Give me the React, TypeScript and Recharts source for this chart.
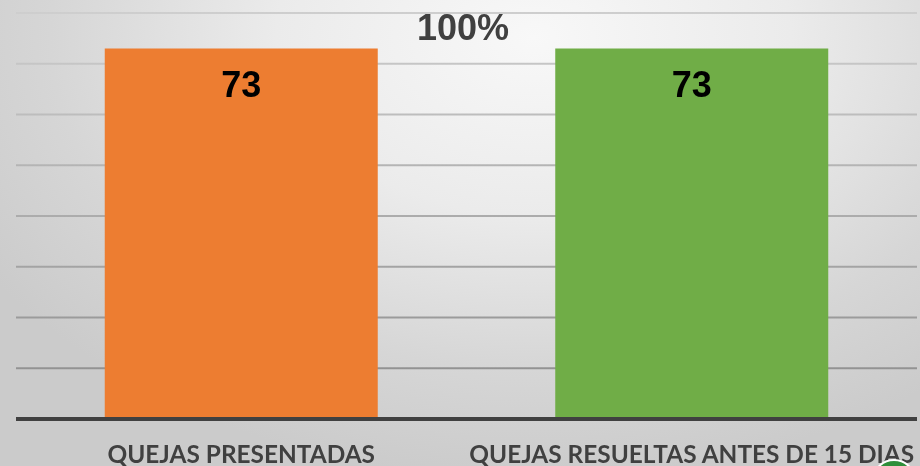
import React from "react";
import { BarChart, Bar, XAxis, YAxis, CartesianGrid, LabelList, Cell } from "recharts";

const categories = ["QUEJAS PRESENTADAS", "QUEJAS RESUELTAS ANTES DE 15 DIAS"];
const values = [73, 73];
const barColors = ["#ED7D31", "#70AD47"];
const yTicks = [0, 10, 20, 30, 40, 50, 60, 70, 80];
const percentLabel = "100%";

const data = categories.map((name, i) => ({ name, value: values[i] }));

const XTick = (props: any) => {
  const { x, payload } = props;
  return (
    <text
      x={x}
      y={462.5}
      textAnchor="middle"
      fill="#404040"
      fontFamily="Lato, 'Open Sans', sans-serif"
      fontWeight={700}
      fontSize={24.4}
    >
      {payload.value}
    </text>
  );
};

const ValueLabel = (props: any) => {
  const { x, y, width, value } = props;
  return (
    <text
      x={x + width / 2}
      y={y + 48.5}
      textAnchor="middle"
      fill="#000000"
      fontFamily="'Liberation Sans', Arial, sans-serif"
      fontWeight={700}
      fontSize={36}
    >
      {value}
    </text>
  );
};

export default function App() {
  return (
    <div
      style={{
        position: "fixed",
        left: 0,
        top: 0,
        width: 920,
        height: 466,
        overflow: "hidden",
        background:
          "radial-gradient(ellipse 70% 95% at 58% 8%, #f8f8f8 0%, #ebebeb 40%, #d6d6d6 75%, #cbcbcb 100%)",
      }}
    >
      <BarChart
        width={920}
        height={466}
        data={data}
        margin={{ top: 13, right: 3, left: 16, bottom: 0 }}
        barCategoryGap="19.7%"
      >
        <defs>
          <linearGradient id="gridGrad" x1="0" y1="0" x2="0" y2="420" gradientUnits="userSpaceOnUse">
            <stop offset="0" stopColor="#d0d0d0" />
            <stop offset="1" stopColor="#8a8a8a" />
          </linearGradient>
        </defs>
        <CartesianGrid vertical={false} stroke="url(#gridGrad)" strokeWidth={2} />
        <YAxis hide domain={[0, 80]} ticks={yTicks} />
        <XAxis
          dataKey="name"
          height={47}
          axisLine={{ stroke: "#404040", strokeWidth: 4 }}
          tickLine={false}
          tick={<XTick />}
          interval={0}
        />
        <Bar dataKey="value" isAnimationActive={false}>
          {data.map((d, i) => (
            <Cell key={d.name} fill={barColors[i]} />
          ))}
          <LabelList dataKey="value" content={<ValueLabel />} />
        </Bar>
      </BarChart>
      <div
        style={{
          position: "absolute",
          left: 363,
          top: 8,
          width: 200,
          textAlign: "center",
          fontFamily: "'Liberation Sans', Arial, sans-serif",
          fontWeight: 700,
          fontSize: 36,
          lineHeight: "40px",
          color: "#404040",
        }}
      >
        {percentLabel}
      </div>
      <div
        style={{
          position: "absolute",
          left: 872,
          top: 459,
          width: 40,
          height: 40,
          borderRadius: "50%",
          background: "#2f8f3a",
          border: "2px solid #ffffff",
        }}
      />
    </div>
  );
}
